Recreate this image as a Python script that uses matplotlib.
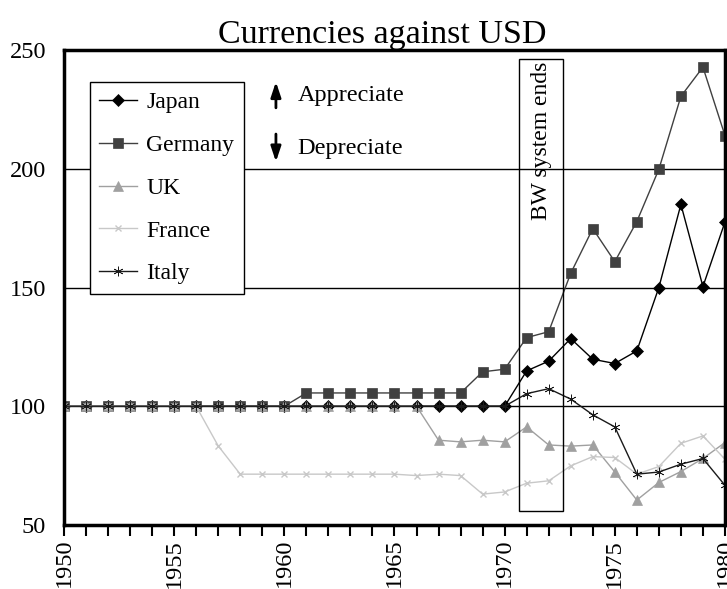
import matplotlib
matplotlib.use("Agg")
import matplotlib.pyplot as plt

years = list(range(1950, 1981))

# index values, 1950 = 100
japan = [100] * 21 + [114.9, 119.0, 128.5, 119.8, 118.0, 123.3, 150.0, 185.0, 150.4, 177.6]
germany = [100] * 11 + [105.6] * 8 + [114.5, 115.6, 128.9, 131.4, 156.0, 174.8, 160.9,
                                      177.8, 199.8, 230.5, 242.8, 214.0]
uk = [100] * 17 + [85.7, 85.0, 85.7, 85.0, 91.3, 83.7, 83.2, 83.7, 72.3, 60.5, 67.9,
                   72.5, 78.0, 84.7]
france = [100] * 7 + [83.3] + [71.4] * 8 + [70.8, 71.4, 70.8, 63.0, 63.9, 67.6, 68.6,
                                           74.9, 78.8, 78.4, 71.4, 74.6, 84.4, 87.5, 77.7]
italy = [100] * 21 + [105.3, 107.4, 103.0, 96.4, 91.3, 71.4, 72.3, 75.6, 78.0, 66.7]

series = [
    ("Japan", japan, "#000000", "D", 6),
    ("Germany", germany, "#404040", "s", 7),
    ("UK", uk, "#a0a0a0", "^", 7.5),
    ("France", france, "#c8c8c8", "x", 5),
    ("Italy", italy, "#1a1a1a", (6, 2, 0), 7),
]

plt.rcParams["font.family"] = ["Liberation Serif", "DejaVu Serif"]

fig = plt.figure(figsize=(7.27, 5.89), dpi=100)
ax = fig.add_axes([0.088, 0.1087, 0.9092, 0.8063])

for name, vals, col, mk, ms in series:
    ax.plot(years, vals, color=col, marker=mk, markersize=ms, lw=1.0, label=name,
            markeredgewidth=1.0 if mk == "x" else 0.5)

ax.set_xlim(1950, 1980)
ax.set_ylim(50, 250)
ax.set_yticks([50, 100, 150, 200, 250])
ax.set_xticks(range(1950, 1981, 5))
ax.set_xticks(years, minor=True)
ax.tick_params(axis="y", length=0, labelsize=17.5, pad=13)
ax.tick_params(axis="x", which="both", length=8, width=1.5, direction="out",
               labelsize=17.5, labelrotation=90, pad=2)
ax.yaxis.grid(True, color="black", lw=1.0)
ax.set_axisbelow(True)
for sp in ax.spines.values():
    sp.set_linewidth(2.5)

ax.set_title("Currencies against USD", fontsize=24.5, pad=5, x=0.482)

leg = ax.legend(loc="upper left", bbox_to_anchor=(0.039, 0.932), borderaxespad=0,
                fancybox=False, framealpha=1, edgecolor="black", fontsize=17,
                handlelength=1.6, handletextpad=0.4, labelspacing=0.9,
                borderpad=0.4)
leg.get_frame().set_linewidth(1.0)

# appreciation / depreciation arrows
arrow_style = dict(arrowstyle="-|>,head_width=0.3,head_length=0.9", color="black", lw=2)
ax.annotate("", xy=(1959.62, 237.8), xytext=(1959.62, 224.5), arrowprops=arrow_style)
ax.annotate("", xy=(1959.62, 201.8), xytext=(1959.62, 215.8), arrowprops=arrow_style)
ax.text(1960.6, 231, "Appreciate", fontsize=17.5, va="center", ha="left")
ax.text(1960.6, 208.7, "Depreciate", fontsize=17.5, va="center", ha="left")

# Bretton Woods box
ax.add_patch(plt.Rectangle((1970.67, 55.9), 1.99, 190.3, fill=False,
                           edgecolor="black", lw=1.0, zorder=3))
ax.text(1971.66, 245.0, "BW system ends", rotation=90, fontsize=17,
        ha="center", va="top", zorder=4)

fig.savefig("out.png", dpi=100)
